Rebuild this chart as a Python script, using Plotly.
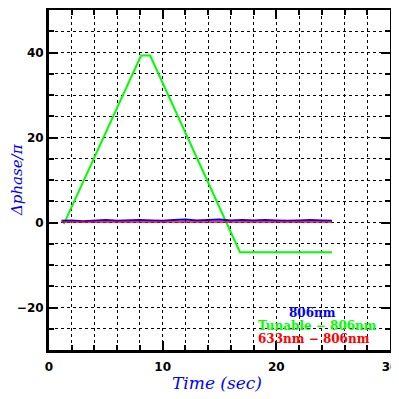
import plotly.graph_objects as go

# Tunable - 806nm (green)
tun_t = [1.3, 8.1, 8.9, 16.8, 24.9]
tun_phase = [-0.4, 39.3, 39.3, -7.0, -7.0]

# 806nm (blue)
b_t = [1.1, 2.0, 3.0, 4.0, 5.0, 6.0, 7.0, 8.0, 9.0, 10.0, 11.0, 12.0, 13.0, 14.0, 15.0, 16.0, 17.0, 18.0, 19.0, 20.0, 21.0, 22.0, 23.0, 24.0, 24.9]
b_phase = [0.4, 0.5, 0.3, 0.4, 0.6, 0.4, 0.5, 0.6, 0.5, 0.4, 0.6, 0.7, 0.5, 0.6, 0.7, 0.5, 0.6, 0.5, 0.6, 0.5, 0.4, 0.5, 0.6, 0.5, 0.4]

# 633nm - 806nm (red)
r_t = [1.1, 3.0, 5.0, 7.0, 9.0, 11.0, 13.0, 15.0, 17.0, 19.0, 21.0, 23.0, 24.9]
r_phase = [0.1, 0.1, 0.0, 0.1, 0.1, 0.0, 0.1, 0.1, 0.0, 0.1, 0.1, 0.1, 0.1]

legend_labels = ["806nm", "Tunable \u2212 806nm", "633nm \u2212 806nm"]
legend_colors = ["#0000ff", "#00ff00", "#ff0000"]

# page body has an 8px margin: plot area should span window x 49..390, y 10..350
OFF = 8
PX0, PX1, PY0, PY1 = 49, 390, 10, 350


def px(wx):
    return (wx - PX0) / (PX1 - PX0)


def py(wy):
    return 1 - (wy - PY0) / (PY1 - PY0)


fig = go.Figure()
fig.add_trace(go.Scatter(x=tun_t, y=tun_phase, mode="lines",
                         line=dict(color="#00ff00", width=2), showlegend=False))
fig.add_trace(go.Scatter(x=b_t, y=b_phase, mode="lines",
                         line=dict(color="#0000ff", width=2), showlegend=False))
fig.add_trace(go.Scatter(x=r_t, y=r_phase, mode="lines",
                         line=dict(color="#ff0000", width=1.5), showlegend=False))

axis_common = dict(
    showline=True, linecolor="black", linewidth=3, mirror="allticks",
    ticks="inside", ticklen=9, tickwidth=2, tickcolor="black",
    showgrid=True, gridcolor="black", griddash="dot", gridwidth=1,
    zeroline=False, automargin=False, ticklabeloverflow="allow",
    tickfont=dict(family="DejaVu Sans", size=12, color="black", weight="bold"),
)

fig.update_xaxes(range=[0, 30], dtick=10, tick0=0, ticklabelstandoff=4,
                 minor=dict(dtick=2, ticks="inside", ticklen=5, tickwidth=2, tickcolor="black",
                            showgrid=True, gridcolor="black", griddash="dot", gridwidth=1),
                 **axis_common)
fig.update_yaxes(range=[-30, 50], dtick=20, tick0=0,
                 minor=dict(dtick=5, ticks="inside", ticklen=5, tickwidth=2, tickcolor="black",
                            showgrid=True, gridcolor="black", griddash="dot", gridwidth=1),
                 **axis_common)

# axis titles
fig.add_annotation(x=px(217), y=py(383), xref="paper", yref="paper",
                   text="Time (sec)", showarrow=False, xanchor="center", yanchor="middle",
                   font=dict(family="DejaVu Serif", size=17, color="#0000ff", style="italic"))
fig.add_annotation(x=px(17), y=py(180), xref="paper", yref="paper",
                   text="\u0394phase/\u03c0", showarrow=False, xanchor="center", yanchor="middle",
                   textangle=-90,
                   font=dict(family="DejaVu Serif", size=15, color="#0000ff", style="italic"))

# legend block
ys = [313, 326, 339]
xs = [312, 317, 314]
for lab, col, yy, xx in zip(legend_labels, legend_colors, ys, xs):
    fig.add_annotation(x=px(xx), y=py(yy), xref="paper", yref="paper",
                       text=lab, showarrow=False, xanchor="center", yanchor="middle",
                       font=dict(family="DejaVu Serif", size=12, color=col, weight="bold"))

W = 399 - OFF
fig.update_layout(width=W, height=W,
                  margin=dict(l=PX0 - OFF, r=W - (PX1 - OFF), t=PY0 - OFF, b=W - (PY1 - OFF)),
                  plot_bgcolor="white", paper_bgcolor="white")

fig.write_html("out.html")
